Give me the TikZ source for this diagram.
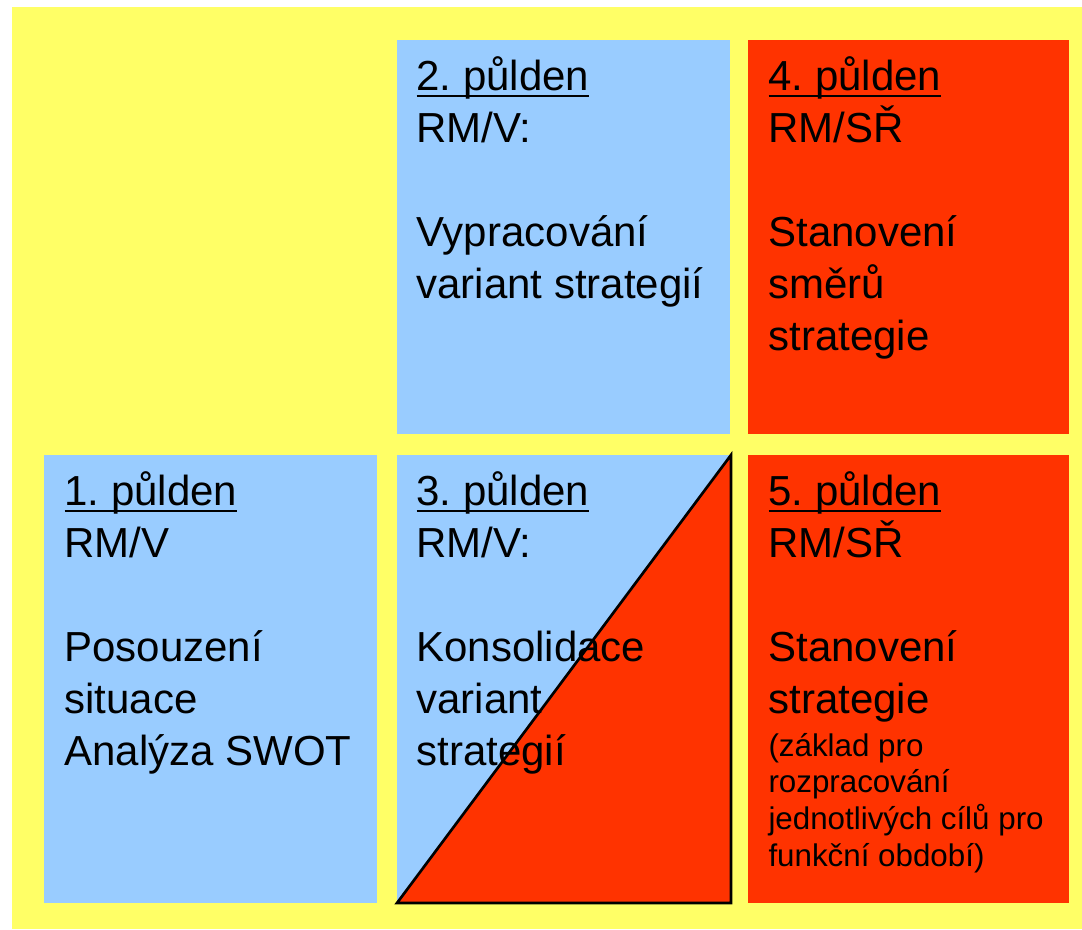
\documentclass[tikz,border=0pt]{standalone}
\usepackage{fontspec}
\setmainfont{Liberation Sans}
\frenchspacing
\definecolor{bgyellow}{RGB}{255,255,102}
\definecolor{dayblue}{RGB}{153,204,255}
\definecolor{dayred}{RGB}{255,51,0}
\newcommand{\udl}[1]{\setbox0\hbox{#1}\rlap{\rule[-5pt]{\wd0}{1.5pt}}\box0}
\tikzset{every picture/.style={line width=0.75pt}}

\begin{document}
\begin{tikzpicture}[x=0.75pt,y=0.75pt,yscale=-1,xscale=1,
  daytext/.style={anchor=base west,inner sep=0pt,align=left,font=\fontsize{31.5}{39}\selectfont},
  notetext/.style={anchor=base west,inner sep=0pt,align=left,font=\fontsize{23.5}{27.4}\selectfont}]
\useasboundingbox (0,0) rectangle (1082,929);

%Background
\fill [white] (0,0) rectangle (1082,929);
\fill [bgyellow] (12,7) rectangle (1082,929);

%Boxes
\fill [dayblue] (397,40) rectangle (730,434);
\fill [dayred] (748,40) rectangle (1069,434);
\fill [dayblue] (44,455) rectangle (377,903);
\fill [dayblue] (397,455) rectangle (730,903);
\fill [dayred] (748,455) rectangle (1069,903);

%Triangle in third box
\draw [fill=dayred, line width=2pt] (397,903) -- (731,455) -- (731,903) -- cycle;

% Text Node (anchored at the baseline of its last line)
\node [daytext] (day2) at (416,298) {\udl{2. půlden}\\ RM/V:\\[39pt] Vypracování\\ variant strategií};
% Text Node
\node [daytext] (day4) at (768,350) {\udl{4. půlden}\\ RM/SŘ\\[39pt] Stanovení\\ směrů\\ strategie};
% Text Node
\node [daytext] (day1) at (64,765) {\udl{1. půlden}\\ RM/V\\[39pt] Posouzení\\ situace\\ Analýza SWOT};
% Text Node
\node [daytext] (day3) at (416,765) {\udl{3. půlden}\\ RM/V:\\[39pt] Konsolidace\\ variant\\ strategií};
% Text Node
\node [daytext] (day5) at (768,713) {\udl{5. půlden}\\ RM/SŘ\\[39pt] Stanovení\\ strategie};
% Text Node
\node [notetext] (day5note) at (768,866) {(základ pro\\ rozpracování\\ jednotlivých cílů pro\\ funkční období)};

\end{tikzpicture}
\end{document}
